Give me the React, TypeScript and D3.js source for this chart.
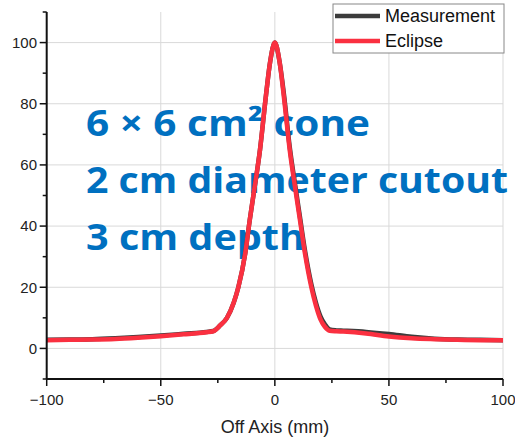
import React from "react";
import * as d3 from "d3";

const offAxis = [-100, -90, -80, -70, -60, -50, -40, -30, -27, -24, -21, -18, -16, -13, -11, -9, -6.5, -4, -2, 0, 2, 4, 6.5, 9, 11, 13, 16, 18, 20, 22, 24, 27, 30, 40, 50, 60, 70, 80, 90, 100];
const eclipse = [2.7, 2.8, 2.9, 3.1, 3.5, 4.0, 4.6, 5.3, 5.6, 7.5, 10, 15, 20, 31, 42, 52, 65, 82, 94, 100, 94, 82, 65, 52, 42, 32, 20, 14, 9.5, 7, 5.8, 5.6, 5.5, 4.9, 3.9, 3.3, 3.0, 2.8, 2.7, 2.7];
const measurement = [2.8, 2.9, 3.0, 3.3, 3.7, 4.2, 4.8, 5.4, 5.7, 7.5, 10, 15, 20, 31, 42, 52, 65, 82, 94, 100, 94, 83, 66, 53, 43, 33, 21, 15, 10.5, 7.8, 6.2, 5.9, 5.8, 5.4, 4.7, 3.8, 3.2, 2.9, 2.8, 2.7];
const xTicks = [-100, -50, 0, 50, 100];
const xMinor = [-75, -25, 25, 75];
const yTicks = [0, 20, 40, 60, 80, 100];
const yMinor = [-10, 10, 30, 50, 70, 90, 110];
const seriesNames = ["Measurement", "Eclipse"];
const annotation = ["6 × 6 cm² cone", "2 cm diameter cutout", "3 cm depth"];

export default function App() {
  const W = 515, H = 439;
  const x = d3.scaleLinear().domain([-100, 100]).range([46.7, 503]);
  const y = d3.scaleLinear().domain([-10, 110]).range([379, 12]);
  const line = d3
    .line<number>()
    .x((_, i) => x(offAxis[i]))
    .y((d) => y(d))
    .curve(d3.curveMonotoneX);
  const font = "'Liberation Sans', Arial, sans-serif";
  const fmt = (v: number) => (v < 0 ? "\u2212" + Math.abs(v) : String(v));
  const annWidths = [284, 422, 219];
  return (
    <svg width={W} height={H} style={{ position: "absolute", left: 0, top: 0, background: "#fff" }}>
      {/* grid */}
      {yTicks.map((t) => (
        <line key={"gy" + t} x1={x(-100)} x2={x(100)} y1={y(t)} y2={y(t)} stroke="#d9d9d9" strokeWidth={1} />
      ))}
      {[-50, 0, 50, 100].map((t) => (
        <line key={"gx" + t} x1={x(t)} x2={x(t)} y1={y(110)} y2={y(-10)} stroke="#d9d9d9" strokeWidth={1} />
      ))}
      {/* annotation */}
      {annotation.map((s, i) => (
        <text
          key={s}
          x={86}
          y={136 + i * 57}
          fill="#0070C0"
          fontFamily="'Open Sans', Lato, sans-serif"
          fontWeight="bold"
          fontSize={35}
          textLength={annWidths[i]}
          lengthAdjust="spacingAndGlyphs"
        >
          {s}
        </text>
      ))}
      {/* curves */}
      <path d={line(measurement) || ""} fill="none" stroke="#3c3c3c" strokeWidth={4.5} strokeLinejoin="round" />
      <path d={line(eclipse) || ""} fill="none" stroke="#fa3040" strokeWidth={4.5} strokeLinejoin="round" />
      {/* axes */}
      <line x1={x(-100)} x2={x(-100)} y1={y(110)} y2={y(-10)} stroke="#111" strokeWidth={2} />
      <line x1={x(-100)} x2={x(100)} y1={y(-10)} y2={y(-10)} stroke="#111" strokeWidth={2} />
      {yTicks.map((t) => (
        <g key={"yt" + t}>
          <line x1={x(-100) - 7} x2={x(-100)} y1={y(t)} y2={y(t)} stroke="#111" strokeWidth={1.5} />
          <text x={37} y={y(t)} dy="0.35em" textAnchor="end" fontFamily={font} fontSize={15} fill="#222">
            {t}
          </text>
        </g>
      ))}
      {yMinor.map((t) => (
        <line key={"ym" + t} x1={x(-100) - 4} x2={x(-100)} y1={y(t)} y2={y(t)} stroke="#111" strokeWidth={1.5} />
      ))}
      {xTicks.map((t) => (
        <g key={"xt" + t}>
          <line x1={x(t)} x2={x(t)} y1={y(-10)} y2={y(-10) + 7} stroke="#111" strokeWidth={1.5} />
          <text x={x(t)} y={405} textAnchor="middle" fontFamily={font} fontSize={15} fill="#222">
            {fmt(t)}
          </text>
        </g>
      ))}
      {xMinor.map((t) => (
        <line key={"xm" + t} x1={x(t)} x2={x(t)} y1={y(-10)} y2={y(-10) + 4} stroke="#111" strokeWidth={1.5} />
      ))}
      <text x={275} y={433} textAnchor="middle" fontFamily={font} fontSize={18} fill="#222">
        Off Axis (mm)
      </text>
      {/* legend */}
      <rect x={333} y={4} width={171} height={49} fill="#fff" stroke="#888" strokeWidth={1} />
      {seriesNames.map((n, i) => (
        <g key={n}>
          <line x1={335} x2={380} y1={16 + i * 25} y2={16 + i * 25} stroke={i === 0 ? "#3c3c3c" : "#fa3040"} strokeWidth={4.5} />
          <text x={385} y={16 + i * 25} dy="0.35em" fontFamily={font} fontSize={18} fill="#111">
            {n}
          </text>
        </g>
      ))}
    </svg>
  );
}
